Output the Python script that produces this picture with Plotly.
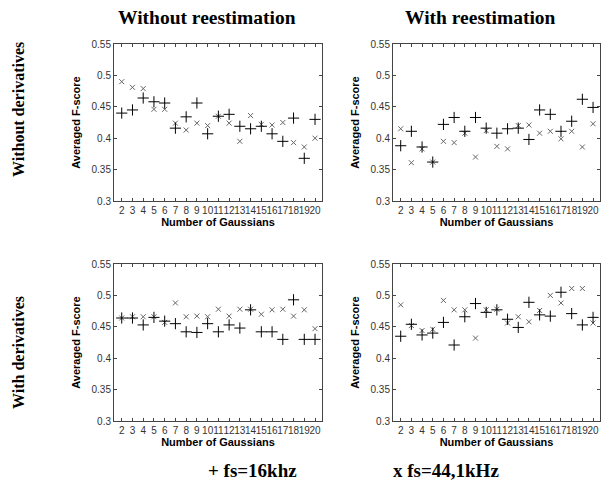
import plotly.graph_objects as go

gaussians = list(range(2, 21))

# Top-left: without derivatives, without reestimation
tl_16k = [0.440, 0.445, 0.464, 0.458, 0.456, 0.416, 0.434, 0.456, 0.407, 0.435,
          0.438, 0.419, 0.415, 0.419, 0.407, 0.395, 0.432, 0.368, 0.430]
tl_44k = [0.490, 0.481, 0.479, 0.446, 0.446, 0.424, 0.413, 0.424, 0.420, 0.435,
          0.424, 0.395, 0.436, 0.422, 0.421, 0.425, 0.393, 0.386, 0.400]
# Top-right: without derivatives, with reestimation
tr_16k = [0.388, 0.411, 0.386, 0.362, 0.422, 0.433, 0.411, 0.433, 0.416, 0.408,
          0.415, 0.416, 0.398, 0.445, 0.438, 0.411, 0.427, 0.462, 0.449]
tr_44k = [0.415, 0.361, 0.383, 0.362, 0.395, 0.393, 0.408, 0.370, 0.412, 0.387,
          0.383, 0.420, 0.421, 0.408, 0.411, 0.399, 0.411, 0.386, 0.423]
# Bottom-left: with derivatives, without reestimation
bl_16k = [0.464, 0.464, 0.453, 0.465, 0.459, 0.455, 0.442, 0.441, 0.455, 0.442,
          0.453, 0.448, 0.477, 0.442, 0.442, 0.430, 0.493, 0.430, 0.430]
bl_44k = [0.464, 0.466, 0.466, 0.466, 0.457, 0.488, 0.466, 0.467, 0.466, 0.478,
          0.467, 0.478, 0.478, 0.470, 0.477, 0.478, 0.467, 0.477, 0.447]
# Bottom-right: with derivatives, with reestimation
br_16k = [0.435, 0.454, 0.437, 0.440, 0.457, 0.421, 0.466, 0.487, 0.473, 0.477,
          0.462, 0.449, 0.489, 0.469, 0.467, 0.505, 0.471, 0.453, 0.465]
br_44k = [0.485, 0.452, 0.444, 0.446, 0.492, 0.477, 0.477, 0.432, 0.477, 0.478,
          0.456, 0.466, 0.458, 0.476, 0.500, 0.488, 0.511, 0.511, 0.456]

col_titles = ["Without reestimation", "With reestimation"]
row_titles = ["Without derivatives", "With derivatives"]
legend_texts = ["+ fs=16khz", "x fs=44,1kHz"]
y_ticks = [0.3, 0.35, 0.4, 0.45, 0.5, 0.55]
y_ticktext = ["0.3", "0.35", "0.4", "0.45", "0.5", "0.55"]

W, H = 608, 484
panels = [
    (tl_16k, tl_44k, (114, 322), (44, 201)),
    (tr_16k, tr_44k, (393, 600), (44, 201)),
    (bl_16k, bl_44k, (114, 322), (264, 421)),
    (br_16k, br_44k, (393, 600), (264, 421)),
]

fig = go.Figure()
layout = dict(width=W, height=H, margin=dict(l=0, r=0, t=0, b=0),
              plot_bgcolor="white", paper_bgcolor="white", showlegend=False)

tickfont = dict(family="Liberation Sans, Arial", size=10, color="#333")
titlefont = dict(family="Liberation Sans, Arial", size=11, color="black")

for i, (s16, s44, (x0, x1), (y0, y1)) in enumerate(panels):
    n = "" if i == 0 else str(i + 1)
    xa, ya = "x" + n, "y" + n
    fig.add_trace(go.Scatter(x=gaussians, y=s44, mode="markers", xaxis=xa, yaxis=ya,
                             marker=dict(symbol="x-thin", size=5,
                                         line=dict(color="#666", width=1))))
    fig.add_trace(go.Scatter(x=gaussians, y=s16, mode="markers", xaxis=xa, yaxis=ya,
                             marker=dict(symbol="cross-thin", size=8,
                                         line=dict(color="black", width=1))))
    layout["xaxis" + n] = dict(
        domain=[x0 / W, x1 / W], anchor=ya, range=[1.28, 20.65],
        tickvals=gaussians, ticktext=[str(g) for g in gaussians], tickangle=0,
        ticks="inside", ticklen=3, tickcolor="#444", showline=True, linecolor="#444",
        linewidth=1, mirror="ticks", showgrid=False, zeroline=False,
        tickfont=tickfont, automargin=False,
        title=dict(text="<b>Number of Gaussians</b>", font=titlefont, standoff=1))
    layout["yaxis" + n] = dict(
        domain=[1 - y1 / H, 1 - y0 / H], anchor=xa, range=[0.3, 0.55],
        tickvals=y_ticks, ticktext=y_ticktext,
        ticks="inside", ticklen=3, tickcolor="#444", showline=True, linecolor="#444",
        linewidth=1, mirror="ticks", showgrid=False, zeroline=False,
        tickfont=tickfont, automargin=False,
        title=dict(text="<b>Averaged F-score</b>", font=titlefont, standoff=8))

serif_row = dict(family="Liberation Serif, Times New Roman", size=16, color="black")
serif_col = dict(family="Liberation Serif, Times New Roman", size=19.5, color="black")
serif_leg = dict(family="Liberation Serif, Times New Roman", size=19, color="black")
annotations = [
    dict(text="<b>%s</b>" % col_titles[0], x=207 / W, y=1 - 18 / H, font=serif_col),
    dict(text="<b>%s</b>" % col_titles[1], x=481 / W, y=1 - 18 / H, font=serif_col),
    dict(text="<b>%s</b>" % row_titles[0], x=18 / W, y=1 - 110 / H, textangle=-90,
         font=serif_row),
    dict(text="<b>%s</b>" % row_titles[1], x=18 / W, y=1 - 353 / H, textangle=-90,
         font=serif_row),
    dict(text="<b>%s</b>" % legend_texts[0], x=252 / W, y=1 - 470 / H, font=serif_leg),
    dict(text="<b>%s</b>" % legend_texts[1], x=446 / W, y=1 - 470 / H, font=serif_leg),
]
for a in annotations:
    a.update(xref="paper", yref="paper", showarrow=False,
             xanchor="center", yanchor="middle")
layout["annotations"] = annotations

fig.update_layout(**layout)
fig.write_html("out.html", config={"displayModeBar": False},
               post_script="document.body.style.margin='0';document.body.style.overflow='hidden';")
